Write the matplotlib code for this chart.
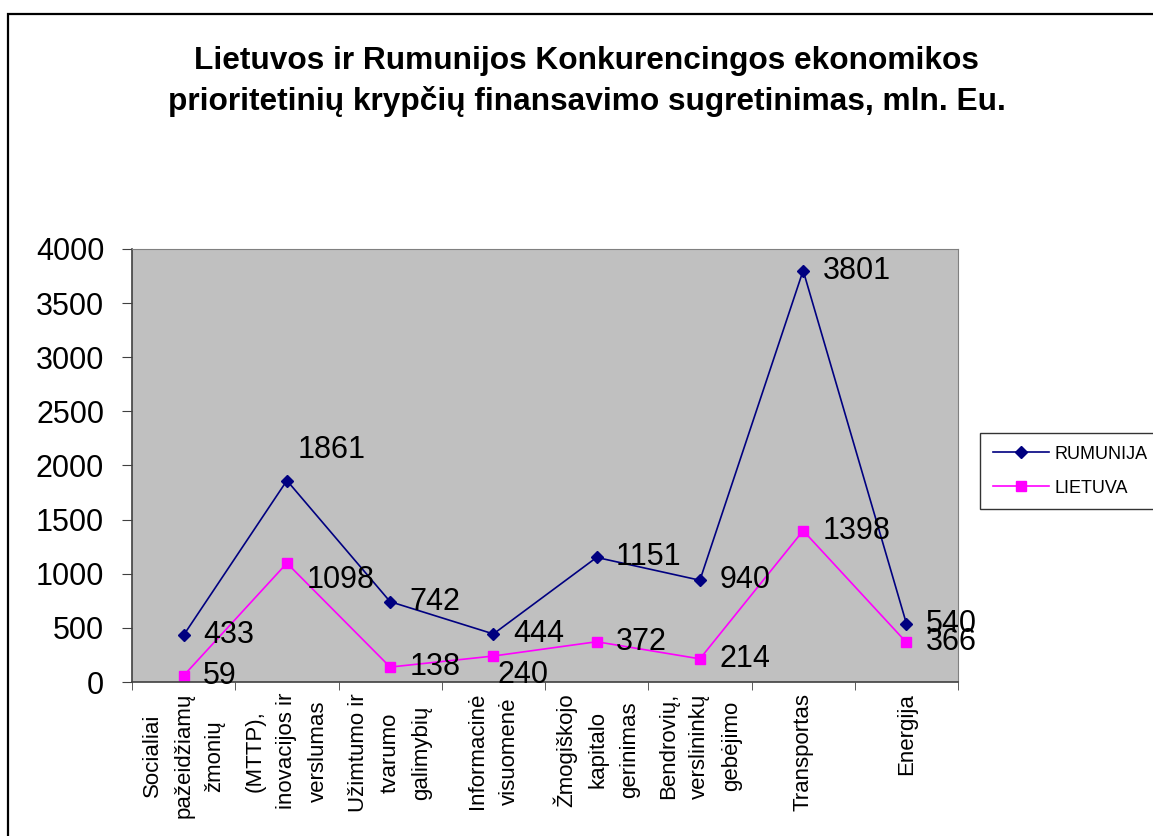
import matplotlib

matplotlib.use("Agg")
import matplotlib.pyplot as plt  # noqa: E402
from matplotlib.patches import Rectangle  # noqa: E402

plt.rcParams["font.family"] = ["Liberation Sans", "DejaVu Sans"]

categories = [
    "Socialiai\npažeidžiamų\nžmonių",
    "(MTTP),\ninovacijos ir\nverslumas",
    "Užimtumo ir\ntvarumo\ngalimybių",
    "Informacinė\nvisuomenė",
    "Žmogiškojo\nkapitalo\ngerinimas",
    "Bendrovių,\nverslininkų\ngebėjimo",
    "Transportas",
    "Energija",
]
rumunija = [433, 1861, 742, 444, 1151, 940, 3801, 540]
lietuva = [59, 1098, 138, 240, 372, 214, 1398, 366]

title = ("Lietuvos ir Rumunijos Konkurencingos ekonomikos\n"
         "prioritetinių krypčių finansavimo sugretinimas, mln. Eu.")

# label offsets in points (dx, dy), a few labels were nudged in the original
rum_offsets = {1: (8, 22)}
lt_offsets = {1: (14, -12), 3: (3, -14)}

fig = plt.figure(figsize=(11.53, 8.36), dpi=100)
ax = fig.add_axes([0.1145, 0.1842, 0.7164, 0.518])
ax.set_facecolor("#C0C0C0")

x = list(range(len(categories)))
ax.plot(x, rumunija, color="#000080", lw=1.2, marker="D", ms=6.5, label="RUMUNIJA")
ax.plot(x, lietuva, color="#FF00FF", lw=1.2, marker="s", ms=7.5, label="LIETUVA")

for series, offsets in ((rumunija, rum_offsets), (lietuva, lt_offsets)):
    for i, v in enumerate(series):
        dx, dy = offsets.get(i, (14, 0))
        ax.annotate(str(v), (i, v), xytext=(dx, dy), textcoords="offset points",
                    ha="left", va="center", fontsize=22, color="black",
                    annotation_clip=False)

ax.set_xlim(-0.5, len(categories) - 0.5)
ax.set_ylim(0, 4000)
ax.set_yticks(range(0, 4001, 500))
ax.tick_params(axis="y", labelsize=22, length=7, pad=13, color="#404040", direction="out")

ax.set_xticks(x)
ax.set_xticklabels(categories, rotation=90, fontsize=16, ha="center", va="top",
                   multialignment="center", linespacing=1.65)
ax.set_xticks([i - 0.5 for i in range(len(categories) + 1)], minor=True)
ax.tick_params(axis="x", which="major", length=0, pad=8)
ax.tick_params(axis="x", which="minor", length=6, color="#404040", direction="out")

for side in ("top", "right"):
    ax.spines[side].set_color("#808080")
for side in ("left", "bottom"):
    ax.spines[side].set_color("#404040")
    ax.spines[side].set_linewidth(1.2)

fig.text(0.509, 0.9025, title, ha="center", va="center", fontsize=22.8,
         fontweight="bold", linespacing=1.4)

leg = fig.legend(loc="upper left", bbox_to_anchor=(980 / 1153, 1 - 433 / 836),
                 fontsize=13, frameon=True, fancybox=False, handlelength=3.1,
                 borderpad=0.7, labelspacing=0.95, handletextpad=0.3, borderaxespad=0)
leg.get_frame().set_edgecolor("black")
leg.get_frame().set_linewidth(1.0)

fig.patches.append(Rectangle((8 / 1153, -0.5), 2, 0.5 + 1 - 14 / 836, fill=False,
                             edgecolor="black", lw=1.6, transform=fig.transFigure,
                             figure=fig))

fig.savefig("out.png", dpi=100)
